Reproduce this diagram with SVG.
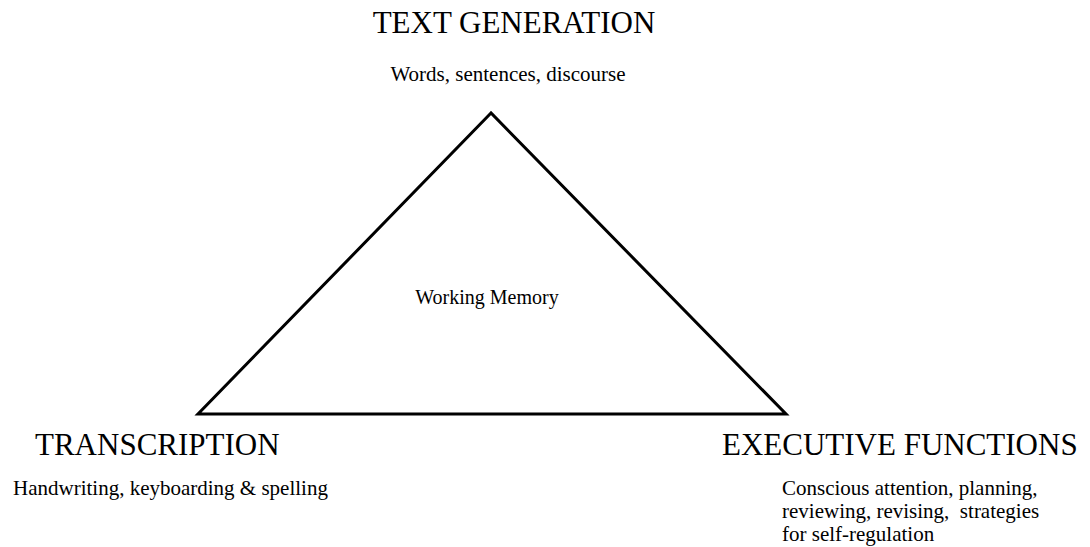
<svg xmlns="http://www.w3.org/2000/svg" width="1090" height="547" viewBox="0 0 1090 547">
<style>
text{font-family:"Liberation Serif","Times New Roman",serif;fill:#000}
.h{font-size:31px}
.s{font-size:21px}
.tri{fill:none;stroke:#000;stroke-width:3;stroke-linejoin:miter}
</style>
<rect width="1090" height="547" fill="#fff"/>
<g id="connectors">
<polygon class="tri" points="491,113 198,414 786,414"/>
</g>
<g id="text-generation">
<text class="h" x="514" y="33" text-anchor="middle">TEXT GENERATION</text>
<text class="s" x="508" y="81" text-anchor="middle">Words, sentences, discourse</text>
</g>
<g id="working-memory">
<text x="487" y="304" text-anchor="middle" style="font-size:20px">Working Memory</text>
</g>
<g id="transcription">
<text class="h" x="35" y="455">TRANSCRIPTION</text>
<text class="s" x="13" y="495">Handwriting, keyboarding &amp; spelling</text>
</g>
<g id="executive-functions">
<text class="h" x="722" y="455">EXECUTIVE FUNCTIONS</text>
<text class="s" x="782" y="495">Conscious attention, planning,</text>
<text class="s" x="782" y="518" xml:space="preserve">reviewing, revising,  strategies</text>
<text class="s" x="782" y="541">for self-regulation</text>
</g>
</svg>
